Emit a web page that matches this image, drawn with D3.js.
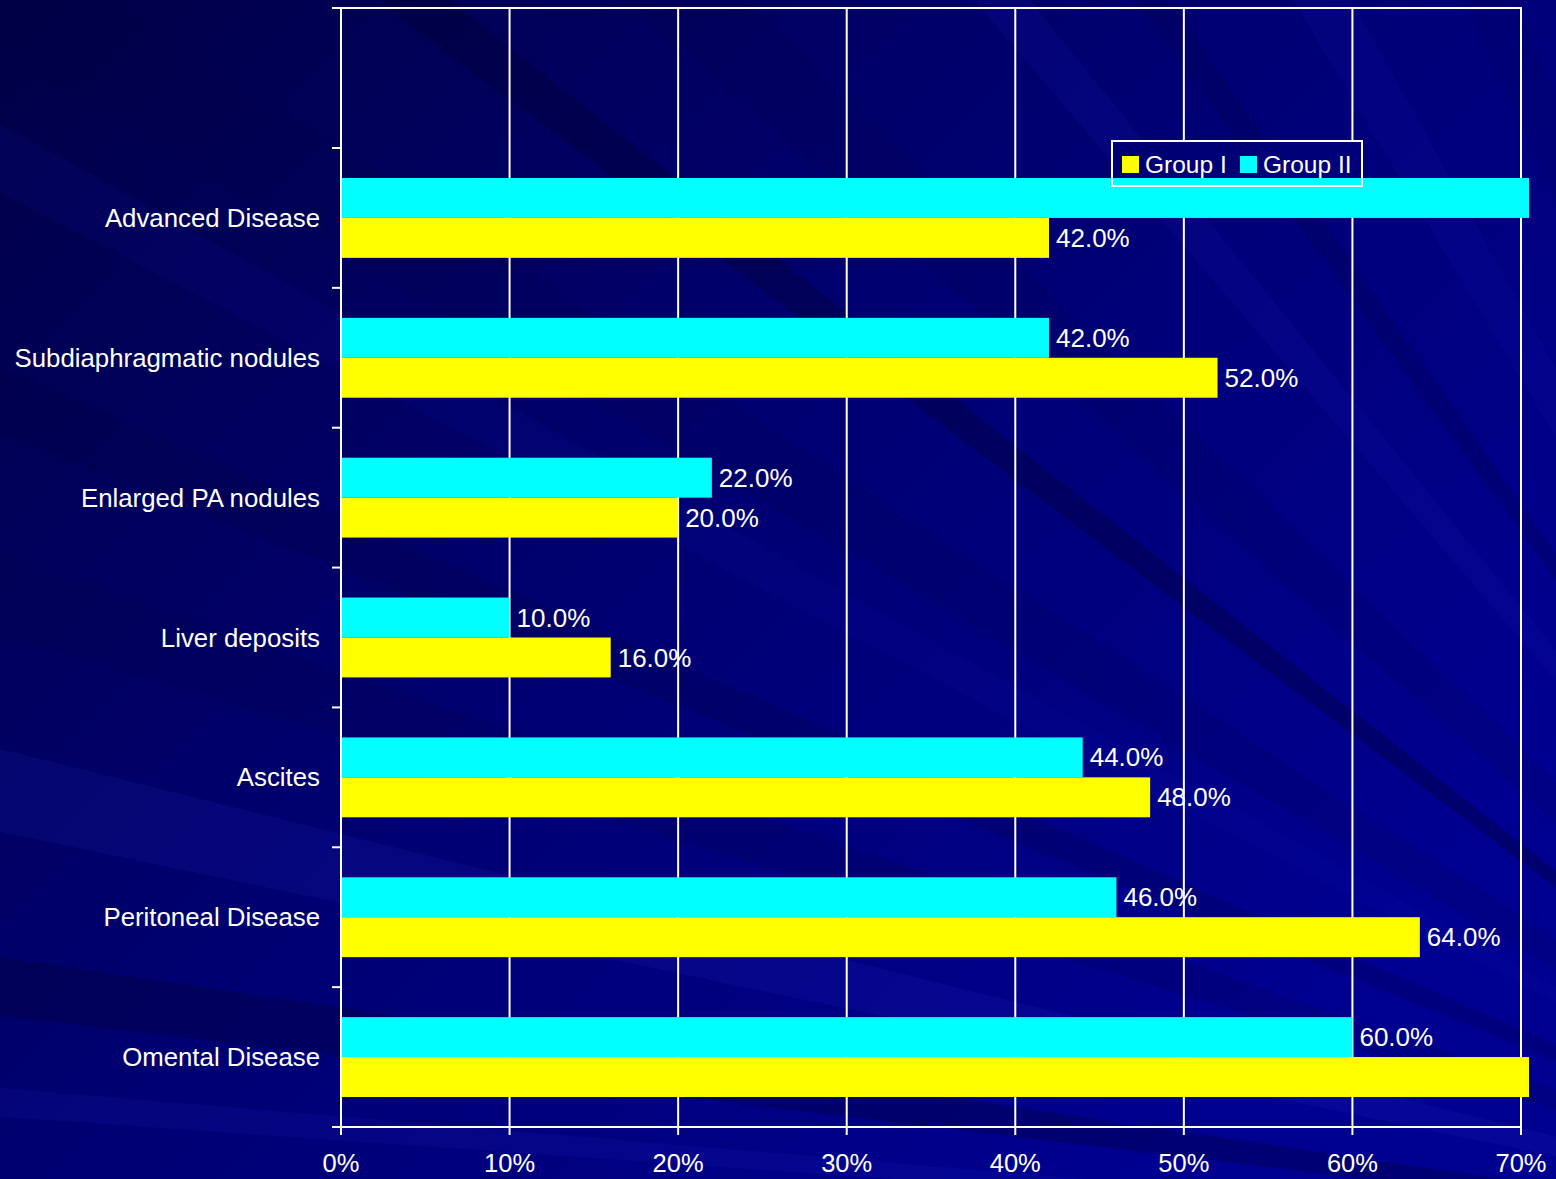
<!DOCTYPE html>
<html>
<head>
<meta charset="utf-8">
<script src="https://cdn.jsdelivr.net/npm/d3@7/dist/d3.min.js"></script>
<style>
  html, body { margin: 0; padding: 0; background: #000060; }
  svg { display: block; }
  text { font-family: "Liberation Sans", Arial, sans-serif; fill: #ffffff; }
</style>
</head>
<body>
<svg id="chart" width="1556" height="1179"></svg>
<script>
// Findings by group, top to bottom as shown
const categories = [
  "Advanced Disease",
  "Subdiaphragmatic nodules",
  "Enlarged PA nodules",
  "Liver deposits",
  "Ascites",
  "Peritoneal Disease",
  "Omental Disease"
];
const seriesNames = ["Group I", "Group II"];
// percentages; two bars run past the 70% end of the axis
const groupI  = [42, 52, 20, 16, 48, 64, 76];
const groupII = [80, 42, 22, 10, 44, 46, 60];
const xTicks = [0, 10, 20, 30, 40, 50, 60, 70];
const xTickLabels = ["0%", "10%", "20%", "30%", "40%", "50%", "60%", "70%"];

const W = 1556, H = 1179;
const plot = { left: 341, right: 1521, top: 8, bottom: 1127 };
const colors = { "Group I": "#ffff00", "Group II": "#00ffff" };

const svg = d3.select("#chart");
const defs = svg.append("defs");

// ---- backdrop: deep blue gradient with a fan of faint diagonal streaks ----
const grad = defs.append("linearGradient").attr("id", "bg")
  .attr("gradientUnits", "userSpaceOnUse")
  .attr("x1", 0).attr("y1", 0).attr("x2", 1150).attr("y2", 1150);
grad.append("stop").attr("offset", 0).attr("stop-color", "#000046");
grad.append("stop").attr("offset", 0.5).attr("stop-color", "#000070");
grad.append("stop").attr("offset", 1).attr("stop-color", "#000090");
svg.append("rect").attr("width", W).attr("height", H).attr("fill", "url(#bg)");

// rays fanning out from a point beyond the lower-right corner
const focus = [2050, 1260];
const rays = [
  { a0: 171.6, a1: 173.2, c: "#000030", o: 0.30 },
  { a0: 175.2, a1: 176.0, c: "#2a2ad0", o: 0.12 },
  { a0: 166.0, a1: 168.2, c: "#3030d0", o: 0.13 },
  { a0: 161.0, a1: 163.0, c: "#000040", o: 0.18 },
  { a0: 156.5, a1: 158.0, c: "#000040", o: 0.22 },
  { a0: 151.0, a1: 152.5, c: "#1010b0", o: 0.12 },
  { a0: 147.0, a1: 149.5, c: "#000040", o: 0.15 },
  { a0: 141.8, a1: 143.0, c: "#000030", o: 0.35 },
  { a0: 136.0, a1: 138.5, c: "#000040", o: 0.15 },
  { a0: 129.0, a1: 130.5, c: "#1a1ab8", o: 0.15 },
  { a0: 125.0, a1: 126.0, c: "#000050", o: 0.30 },
  { a0: 119.0, a1: 121.0, c: "#1414b0", o: 0.15 },
  { a0: 113.0, a1: 115.0, c: "#000060", o: 0.20 },
  { a0: 106.0, a1: 108.0, c: "#000060", o: 0.20 }
];
const R = 4000;
const rayPt = a => {
  const r = a * Math.PI / 180;
  return [focus[0] + R * Math.cos(r), focus[1] - R * Math.sin(r)];
};
svg.append("g").selectAll("path").data(rays).join("path")
  .attr("d", d => "M" + focus + "L" + rayPt(d.a0) + "L" + rayPt(d.a1) + "Z")
  .attr("fill", d => d.c).attr("opacity", d => d.o);

// ---- scales ----
const x = d3.scaleLinear().domain([0, 70]).range([plot.left, plot.right]);
const firstBand = 148;
const y = d3.scaleBand().domain(categories)
  .range([firstBand, plot.bottom])
  .paddingInner(60 / 139.857).paddingOuter(30 / 139.857);
const sub = d3.scaleBand().domain(["Group II", "Group I"]).range([0, y.bandwidth()]);
const gap = (y.step() - y.bandwidth()) / 2;

// ---- gridlines ----
svg.append("g").selectAll("line").data(xTicks.slice(1)).join("line")
  .attr("x1", d => x(d)).attr("x2", d => x(d))
  .attr("y1", plot.top).attr("y2", plot.bottom)
  .attr("stroke", "#ffffff").attr("stroke-width", 2);
// top edge of the plot area
svg.append("line")
  .attr("x1", plot.left - 9).attr("x2", x(70) + 1)
  .attr("y1", plot.top).attr("y2", plot.top)
  .attr("stroke", "#ffffff").attr("stroke-width", 2);

// legend panel sits over the gridlines
const legBox = { x: 1112, y: 141, w: 250, h: 45 };
svg.append("rect")
  .attr("x", legBox.x).attr("y", legBox.y)
  .attr("width", legBox.w).attr("height", legBox.h)
  .attr("fill", "url(#bg)");

// ---- bars ----
defs.append("clipPath").attr("id", "plotClip").append("rect")
  .attr("x", plot.left).attr("y", plot.top)
  .attr("width", plot.right + 8 - plot.left).attr("height", plot.bottom - plot.top);

const rows = categories.map((c, i) => ({
  cat: c,
  vals: [
    { s: "Group II", v: groupII[i] },
    { s: "Group I", v: groupI[i] }
  ]
}));

const barG = svg.append("g").attr("clip-path", "url(#plotClip)");
const rowG = barG.selectAll("g").data(rows).join("g")
  .attr("transform", d => `translate(0,${y(d.cat)})`);
rowG.selectAll("rect").data(d => d.vals).join("rect")
  .attr("x", x(0))
  .attr("y", d => sub(d.s))
  .attr("width", d => x(d.v) - x(0))
  .attr("height", sub.bandwidth())
  .attr("fill", d => colors[d.s]);

// value labels (only for bars that end inside the axis range)
const labelG = svg.append("g");
rows.forEach(r => {
  r.vals.filter(d => d.v <= 70).forEach(d => {
    labelG.append("text")
      .attr("x", x(d.v) + 7)
      .attr("y", y(r.cat) + sub(d.s) + sub.bandwidth() / 2)
      .attr("dy", "0.35em")
      .attr("font-size", 26)
      .text(d3.format(".1f")(d.v) + "%");
  });
});

// ---- category axis ----
const axY = svg.append("g");
axY.append("line")
  .attr("x1", plot.left).attr("x2", plot.left)
  .attr("y1", plot.top - 1).attr("y2", plot.bottom + 8)
  .attr("stroke", "#ffffff").attr("stroke-width", 2);
const bounds = categories.map(c => y(c) - gap).concat([plot.bottom]);
axY.selectAll("line.tick").data(bounds).join("line").attr("class", "tick")
  .attr("x1", plot.left - 9).attr("x2", plot.left)
  .attr("y1", d => d).attr("y2", d => d)
  .attr("stroke", "#ffffff").attr("stroke-width", 2);
axY.selectAll("text").data(categories).join("text")
  .attr("x", plot.left - 21)
  .attr("y", d => y(d) + y.bandwidth() / 2)
  .attr("dy", "0.35em")
  .attr("text-anchor", "end")
  .attr("font-size", 25.8)
  .text(d => d);

// ---- value axis ----
const axX = svg.append("g");
axX.append("line")
  .attr("x1", plot.left - 9).attr("x2", x(70) + 1)
  .attr("y1", plot.bottom).attr("y2", plot.bottom)
  .attr("stroke", "#ffffff").attr("stroke-width", 2);
axX.selectAll("line.tick").data(xTicks).join("line").attr("class", "tick")
  .attr("x1", d => x(d)).attr("x2", d => x(d))
  .attr("y1", plot.bottom).attr("y2", plot.bottom + 8)
  .attr("stroke", "#ffffff").attr("stroke-width", 2);
axX.selectAll("text").data(xTicks).join("text")
  .attr("x", d => x(d))
  .attr("y", 1172)
  .attr("text-anchor", "middle")
  .attr("font-size", 25.5)
  .text((d, i) => xTickLabels[i]);

// ---- legend ----
const leg = svg.append("g").attr("transform", `translate(${legBox.x},${legBox.y})`);
leg.append("rect").attr("width", legBox.w).attr("height", legBox.h)
  .attr("fill", "none").attr("stroke", "#ffffff").attr("stroke-width", 2);
const legItems = [
  { s: seriesNames[0], sx: 10, tx: 33 },
  { s: seriesNames[1], sx: 128, tx: 151 }
];
legItems.forEach(it => {
  leg.append("rect").attr("x", it.sx).attr("y", 15).attr("width", 17).attr("height", 17)
    .attr("fill", colors[it.s]);
  leg.append("text").attr("x", it.tx).attr("y", 23).attr("dy", "0.35em")
    .attr("font-size", 24.5).text(it.s);
});
</script>
</body>
</html>
